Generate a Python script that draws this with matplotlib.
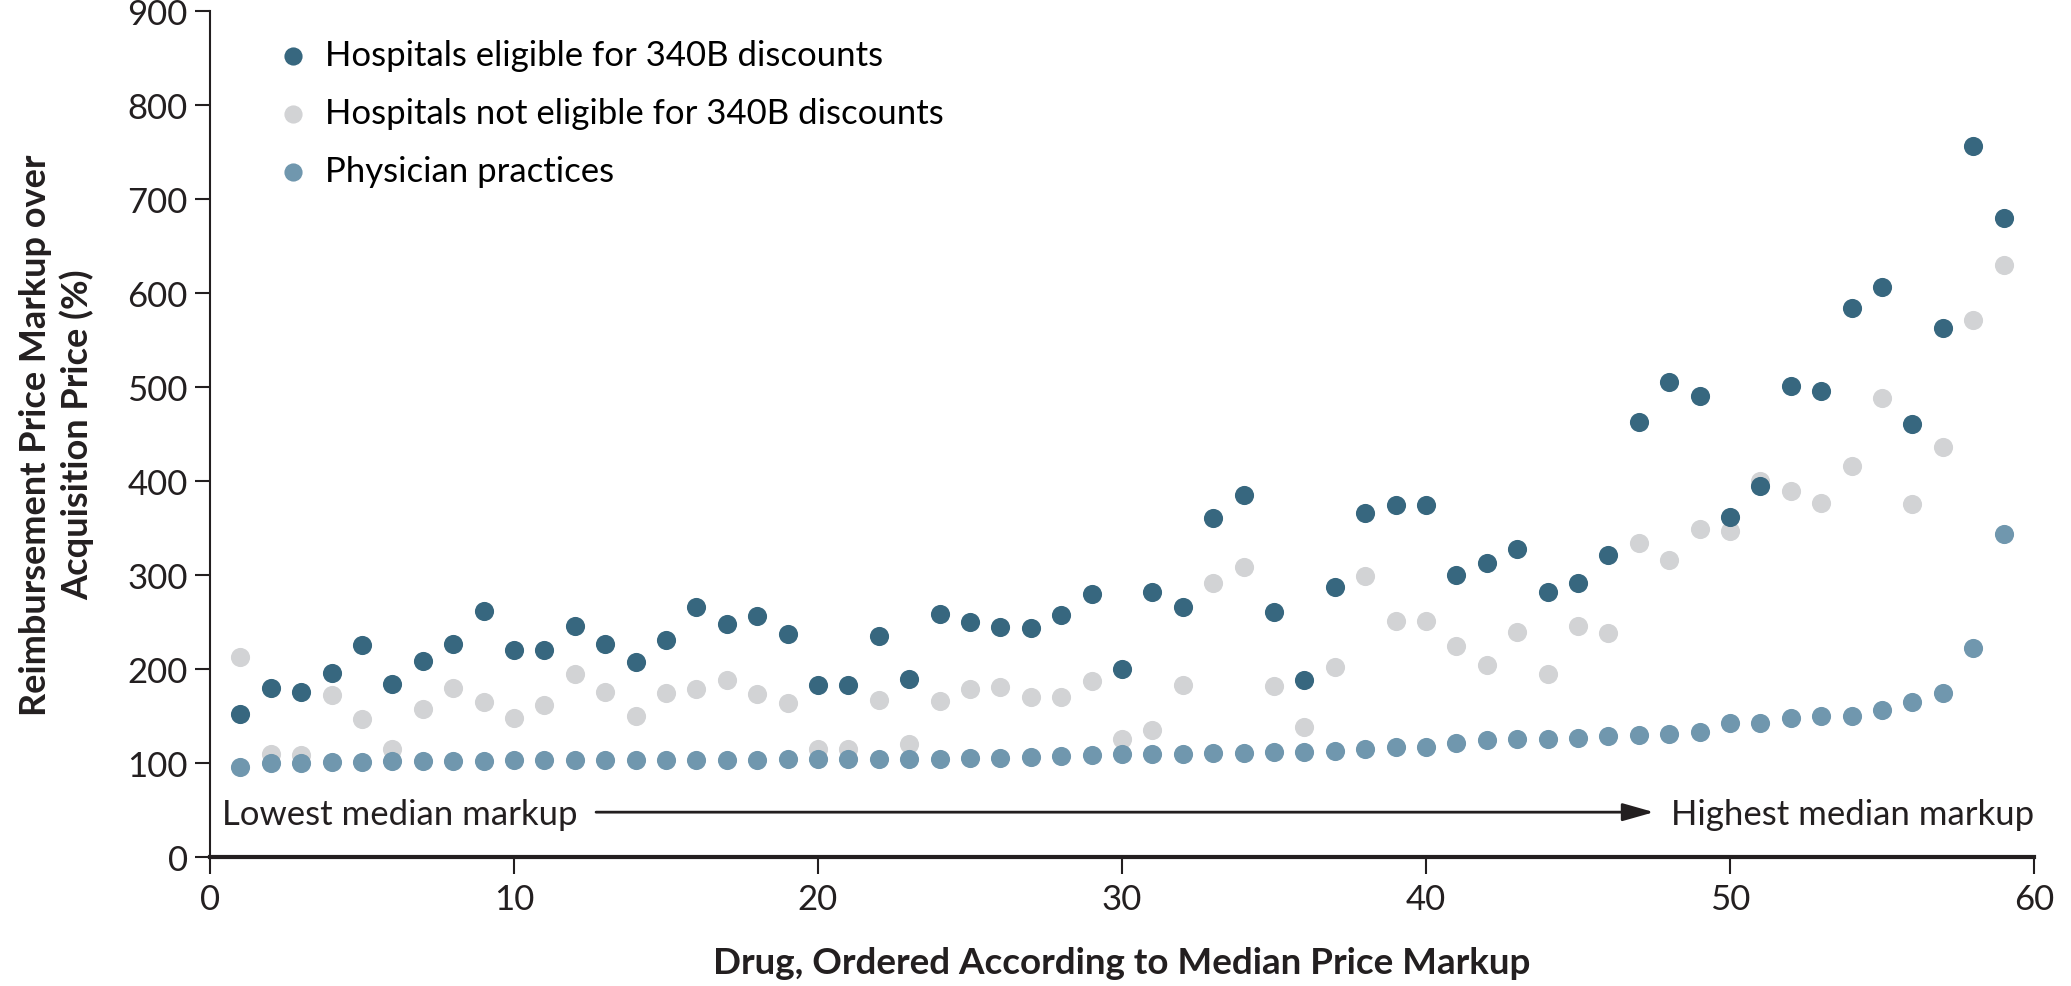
import numpy as np
import matplotlib.pyplot as plt

plt.rcParams['font.family'] = ['Lato', 'DejaVu Sans']

# Drug index (ordered by median markup)
drug = np.arange(1, 60)

# Markup over acquisition price (%)
eligible_340b = [152, 180, 176, 196, 226, 184, 209, 227, 262, 220,
                 220, 246, 227, 207, 231, 266, 248, 256, 237, 183,
                 183, 235, 189, 259, 250, 245, 244, 257, 280, 200,
                 282, 266, 361, 385, 261, 188, 287, 366, 374, 374,
                 300, 313, 328, 282, 291, 321, 463, 505, 490, 362,
                 395, 501, 496, 584, 606, 461, 563, 756, 680]
not_eligible_340b = [213, 110, 108, 172, 147, 115, 157, 180, 165, 148,
                     162, 195, 176, 150, 174, 179, 188, 173, 164, 115,
                     115, 167, 120, 166, 179, 181, 170, 170, 187, 125,
                     135, 183, 291, 308, 182, 138, 202, 299, 251, 251,
                     224, 204, 239, 195, 246, 238, 334, 316, 349, 347,
                     400, 389, 377, 416, 488, 376, 436, 571, 630]
physician = [96, 100, 100, 101, 101, 102, 102, 102, 102, 103,
             103, 103, 103, 103, 103, 103, 103, 103, 104, 104,
             104, 104, 104, 104, 105, 105, 106, 107, 109, 110,
             110, 110, 111, 111, 112, 112, 113, 115, 117, 117,
             121, 124, 126, 126, 127, 129, 130, 131, 133, 143,
             143, 148, 150, 150, 156, 165, 174, 222, 344]

labels = ['Hospitals eligible for 340B discounts',
          'Hospitals not eligible for 340B discounts',
          'Physician practices']
colors = ['#37677f', '#d2d3d5', '#7097ae']
ink = '#231f20'

fig = plt.figure(figsize=(20.71, 9.87), dpi=100)
ax = fig.add_axes([0.1014, 0.1307, 0.8807, 0.8572])

# physician first so the hospital dots sit on top where they overlap
ax.scatter(drug, physician, s=190, color=colors[2], label=labels[2], zorder=3, linewidths=0)
ax.scatter(drug, not_eligible_340b, s=190, color=colors[1], label=labels[1], zorder=2, linewidths=0)
ax.scatter(drug, eligible_340b, s=190, color=colors[0], label=labels[0], zorder=4, linewidths=0)

ax.set_xlim(0, 60)
ax.set_ylim(0, 900)
ax.set_xticks(range(0, 61, 10))
ax.set_yticks(range(0, 901, 100))
for side in ['top', 'right']:
    ax.spines[side].set_visible(False)
ax.spines['left'].set_linewidth(1.5)
ax.spines['bottom'].set_linewidth(3)
for sp in ['left', 'bottom']:
    ax.spines[sp].set_color(ink)
ax.tick_params(axis='both', direction='out', width=1.5, labelsize=25, colors=ink)
ax.tick_params(axis='x', length=12, pad=7)
ax.tick_params(axis='y', length=11, pad=5)

ax.set_xlabel('Drug, Ordered According to Median Price Markup',
              fontsize=26.5, fontweight='bold', color=ink, va='center')
ax.xaxis.set_label_coords(0.5, -0.125)
ax.set_ylabel('Reimbursement Price Markup over\nAcquisition Price (%)',
              fontsize=26, fontweight='bold', color=ink,
              linespacing=1.25, va='center')
ax.yaxis.set_label_coords(-0.084, 0.5)

# ordering arrow along the bottom
ax.text(0.4, 35, 'Lowest median markup', fontsize=25, va='baseline', ha='left', color=ink)
ax.text(60, 35, 'Highest median markup', fontsize=25, va='baseline', ha='right', color=ink)
ax.annotate('', xy=(47.5, 47.7), xytext=(12.7, 47.7),
            arrowprops=dict(arrowstyle='-|>,head_length=0.6,head_width=0.17',
                            color=ink, lw=2, mutation_scale=32,
                            shrinkA=0, shrinkB=0))

h, l = ax.get_legend_handles_labels()
order = [2, 1, 0]
ax.legend([h[i] for i in order], [l[i] for i in order], loc='upper left',
          bbox_to_anchor=(0.019, 1.004), frameon=False, fontsize=25,
          handletextpad=0.42, labelspacing=0.75, markerscale=0.95, handlelength=1.0)

fig.savefig('out.png', dpi=100)
